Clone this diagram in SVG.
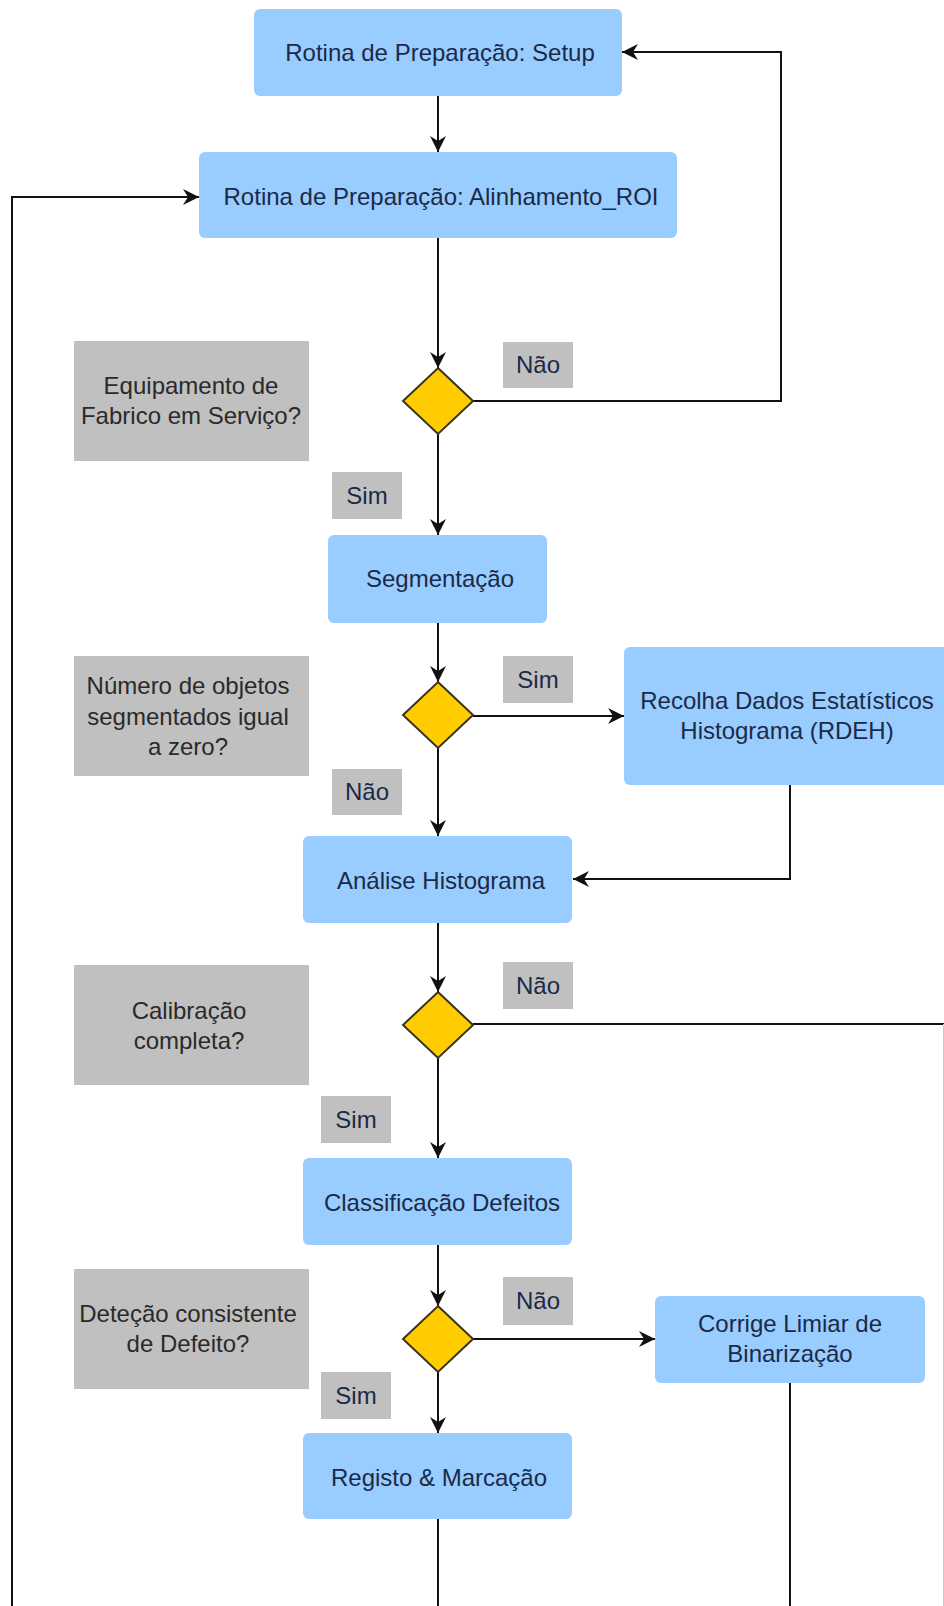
<svg xmlns="http://www.w3.org/2000/svg" width="944" height="1606" viewBox="0 0 944 1606">
<defs>
<marker id="arr" markerUnits="userSpaceOnUse" markerWidth="18" markerHeight="16" refX="16" refY="8" orient="auto">
<path d="M0,0 L16,8 L0,16 L5,8 Z" fill="#111"/>
</marker>
<style>
.box{fill:#99CCFF;}
.q{fill:#C0C0C0;}
.lbl{fill:#C0C0C0;}
.dia{fill:#FFCC00;stroke:#3a3220;stroke-width:2;}
.t{font-family:"Liberation Sans",Arial,sans-serif;font-size:24px;fill:#1b2a47;text-anchor:middle;dominant-baseline:central;}
.tq{font-family:"Liberation Sans",Arial,sans-serif;font-size:24px;fill:#2a2a2a;text-anchor:middle;dominant-baseline:central;}
.c{fill:none;stroke:#111;stroke-width:2;}
.ca{fill:none;stroke:#111;stroke-width:2;marker-end:url(#arr);}
</style>
</defs>
<rect width="944" height="1606" fill="#ffffff"/>

<g id="connectors">
<path class="ca" d="M438,96 V152"/>
<path class="ca" d="M438,238 V368"/>
<path class="ca" d="M473,401 H781 V52 H622"/>
<path class="ca" d="M438,434 V535"/>
<path class="ca" d="M438,623 V682"/>
<path class="ca" d="M473,716 H624"/>
<path class="ca" d="M438,748 V836"/>
<path class="ca" d="M790,785 V879 H573"/>
<path class="ca" d="M438,923 V992"/>
<path class="c" d="M473,1024 H944"/>
<path d="M943.5,1024 V1606" fill="none" stroke="#c8c8c8" stroke-width="1"/>
<path class="ca" d="M438,1058 V1158"/>
<path class="ca" d="M438,1245 V1306"/>
<path class="ca" d="M473,1339 H655"/>
<path class="ca" d="M438,1372 V1433"/>
<path class="c" d="M438,1519 V1606"/>
<path class="c" d="M790,1383 V1606"/>
<path class="ca" d="M12,1606 V197 H199"/>
</g>

<g id="setup">
<rect class="box" x="254" y="9" width="368" height="87" rx="6"/>
<text class="t" x="440" y="52">Rotina de Preparação: Setup</text>
</g>
<g id="alinhamento">
<rect class="box" x="199" y="152" width="478" height="86" rx="6"/>
<text class="t" x="441" y="196">Rotina de Preparação: Alinhamento_ROI</text>
</g>

<g id="q1">
<rect class="q" x="74" y="341" width="235" height="120"/>
<text class="tq" x="191" y="385">Equipamento de</text>
<text class="tq" x="191" y="415">Fabrico em Serviço?</text>
</g>
<g id="d1">
<polygon class="dia" points="438,368 473,401 438,434 403,401"/>
</g>
<g id="l-nao1"><rect class="lbl" x="503" y="342" width="70" height="46"/><text class="t" x="538" y="364">Não</text></g>
<g id="l-sim1"><rect class="lbl" x="332" y="472" width="70" height="47"/><text class="t" x="367" y="495">Sim</text></g>

<g id="segmentacao">
<rect class="box" x="328" y="535" width="219" height="88" rx="6"/>
<text class="t" x="440" y="578">Segmentação</text>
</g>

<g id="q2">
<rect class="q" x="74" y="656" width="235" height="120"/>
<text class="tq" x="188" y="685">Número de objetos</text>
<text class="tq" x="188" y="716">segmentados igual</text>
<text class="tq" x="188" y="746">a zero?</text>
</g>
<g id="d2">
<polygon class="dia" points="438,682 473,715 438,748 403,715"/>
</g>
<g id="l-sim2"><rect class="lbl" x="503" y="656" width="70" height="47"/><text class="t" x="538" y="679">Sim</text></g>
<g id="l-nao2"><rect class="lbl" x="332" y="769" width="70" height="46"/><text class="t" x="367" y="791">Não</text></g>

<g id="rdeh">
<rect class="box" x="624" y="647" width="340" height="138" rx="6"/>
<text class="t" x="787" y="700">Recolha Dados Estatísticos</text>
<text class="t" x="787" y="730">Histograma (RDEH)</text>
</g>

<g id="analise">
<rect class="box" x="303" y="836" width="269" height="87" rx="6"/>
<text class="t" x="441" y="880">Análise Histograma</text>
</g>

<g id="q3">
<rect class="q" x="74" y="965" width="235" height="120"/>
<text class="tq" x="189" y="1010">Calibração</text>
<text class="tq" x="189" y="1040">completa?</text>
</g>
<g id="d3">
<polygon class="dia" points="438,992 473,1025 438,1058 403,1025"/>
</g>
<g id="l-nao3"><rect class="lbl" x="503" y="962" width="70" height="47"/><text class="t" x="538" y="985">Não</text></g>
<g id="l-sim3"><rect class="lbl" x="321" y="1096" width="70" height="47"/><text class="t" x="356" y="1119">Sim</text></g>

<g id="classificacao">
<rect class="box" x="303" y="1158" width="269" height="87" rx="6"/>
<text class="t" x="442" y="1202">Classificação Defeitos</text>
</g>

<g id="q4">
<rect class="q" x="74" y="1269" width="235" height="120"/>
<text class="tq" x="188" y="1313">Deteção consistente</text>
<text class="tq" x="188" y="1343">de Defeito?</text>
</g>
<g id="d4">
<polygon class="dia" points="438,1306 473,1339 438,1372 403,1339"/>
</g>
<g id="l-nao4"><rect class="lbl" x="503" y="1277" width="70" height="48"/><text class="t" x="538" y="1300">Não</text></g>
<g id="l-sim4"><rect class="lbl" x="321" y="1372" width="70" height="47"/><text class="t" x="356" y="1395">Sim</text></g>

<g id="corrige">
<rect class="box" x="655" y="1296" width="270" height="87" rx="6"/>
<text class="t" x="790" y="1323">Corrige Limiar de</text>
<text class="t" x="790" y="1353">Binarização</text>
</g>

<g id="registo">
<rect class="box" x="303" y="1433" width="269" height="86" rx="6"/>
<text class="t" x="439" y="1477">Registo &amp; Marcação</text>
</g>
</svg>
